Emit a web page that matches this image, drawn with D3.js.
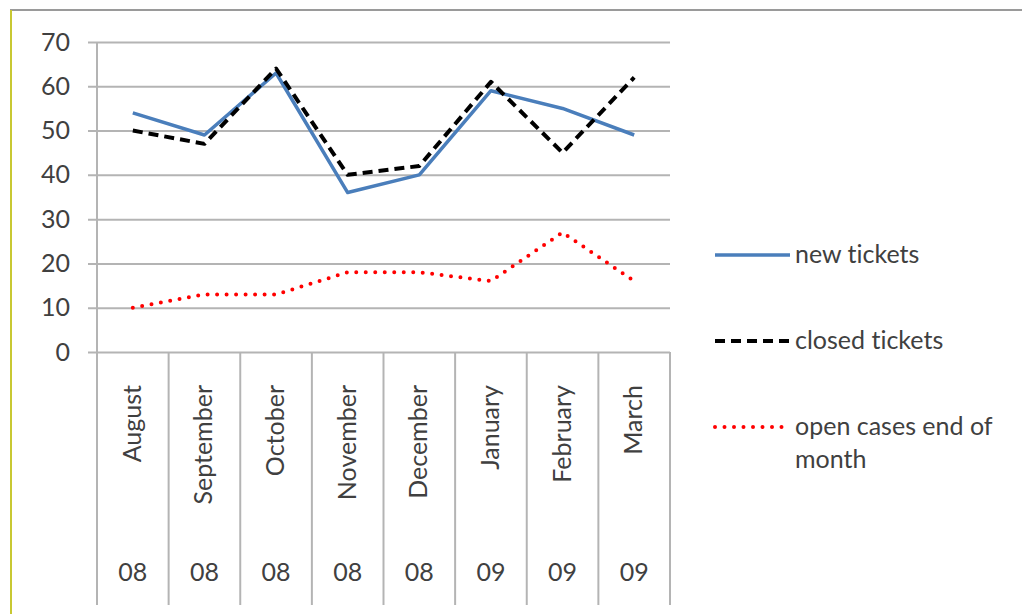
<!DOCTYPE html>
<html>
<head>
<meta charset="utf-8">
<script src="https://cdn.jsdelivr.net/npm/d3@7"></script>
<style>
  body { margin: 0; background: #fff; }
  text { font-family: Lato, "Open Sans", sans-serif; fill: #404040; font-variant-ligatures: none; }
</style>
</head>
<body>
<script>
var width = 1022,
  height = 614;

// data
var months = ["August", "September", "October", "November", "December", "January", "February", "March"];
var years = ["08", "08", "08", "08", "08", "09", "09", "09"];
var newTickets = [54, 49, 63, 36, 40, 59, 55, 49];
var closedTickets = [50, 47, 64, 40, 42, 61, 45, 62];
var openCases = [10, 13, 13, 18, 18, 16, 27, 16];
var yTicks = [0, 10, 20, 30, 40, 50, 60, 70];

var series = [
  { name: "new tickets", values: newTickets, color: "#4a7ebb", width: 3.5, dash: null, cap: "butt" },
  { name: "closed tickets", values: closedTickets, color: "#000", width: 4, dash: "10,6", cap: "butt" },
  { name: "open cases end of month", values: openCases, color: "#ff0000", width: 4, dash: "0,9.5", cap: "round" }
];

var fontSize = "25px";

var svg = d3.select("body")
  .append("svg")
  .attr("width", width)
  .attr("height", height);

// chart frame
svg.append("line")
  .attr("x1", 10).attr("x2", width).attr("y1", 10).attr("y2", 10)
  .attr("stroke", "#9a9a9a").attr("stroke-width", 2);
svg.append("line")
  .attr("x1", 11).attr("x2", 11).attr("y1", 10).attr("y2", height)
  .attr("stroke", "#c8c832").attr("stroke-width", 2);

//----------scales----------
var xScale = d3.scaleBand()
  .domain(months)
  .range([97, 670]);

var yScale = d3.scaleLinear()
  .domain([0, 70])
  .range([352, 42]);

//----------gridlines + Y axis----------
var yAxis = d3.axisLeft(yScale)
  .tickValues(yTicks)
  .tickSize(-(670 - 88))
  .tickPadding(18);

var gy = svg.append("g")
  .attr("transform", "translate(88,0)")
  .call(yAxis);
gy.select(".domain").remove();
gy.selectAll(".tick line")
  .attr("stroke", "#b4b4b4")
  .attr("stroke-width", 2);
gy.selectAll(".tick text")
  .style("font-size", fontSize)
  .attr("fill", "#404040");

svg.append("line")
  .attr("x1", 97).attr("x2", 97)
  .attr("y1", 42).attr("y2", 352)
  .attr("stroke", "#b4b4b4").attr("stroke-width", 2);

//----------category dividers + labels----------
var bounds = months.map(function (m) { return xScale(m); }).concat([670]);
svg.selectAll(".divider")
  .data(bounds)
  .enter()
  .append("line")
  .attr("class", "divider")
  .attr("x1", function (d) { return d; })
  .attr("x2", function (d) { return d; })
  .attr("y1", 352)
  .attr("y2", 605)
  .attr("stroke", "#b4b4b4")
  .attr("stroke-width", 2);

svg.selectAll(".month")
  .data(months)
  .enter()
  .append("text")
  .attr("class", "month")
  .attr("transform", function (d) {
    return "translate(" + (xScale(d) + xScale.bandwidth() / 2 + 8) + ",385) rotate(-90)";
  })
  .attr("text-anchor", "end")
  .style("font-size", fontSize)
  .text(function (d) { return d; });

svg.selectAll(".year")
  .data(years)
  .enter()
  .append("text")
  .attr("class", "year")
  .attr("x", function (d, i) { return xScale(months[i]) + xScale.bandwidth() / 2; })
  .attr("y", 581)
  .attr("text-anchor", "middle")
  .style("font-size", fontSize)
  .text(function (d) { return d; });

//----------lines----------
var line = d3.line()
  .x(function (d, i) { return xScale(months[i]) + xScale.bandwidth() / 2; })
  .y(function (d) { return yScale(d); });

series.forEach(function (s) {
  svg.append("path")
    .datum(s.values)
    .attr("d", line)
    .attr("fill", "none")
    .attr("stroke", s.color)
    .attr("stroke-width", s.width)
    .attr("stroke-dasharray", s.dash)
    .attr("stroke-linecap", s.cap)
    .attr("stroke-linejoin", "round");
});

//----------legend----------
var legendY = [255, 341, 427];
series.forEach(function (s, i) {
  svg.append("line")
    .attr("x1", 715).attr("x2", 790)
    .attr("y1", legendY[i]).attr("y2", legendY[i])
    .attr("stroke", s.color)
    .attr("stroke-width", s.width)
    .attr("stroke-dasharray", s.dash)
    .attr("stroke-linecap", s.cap);
});
svg.append("text").attr("x", 795).attr("y", 263).style("font-size", fontSize).text("new tickets");
svg.append("text").attr("x", 795).attr("y", 349).style("font-size", fontSize).text("closed tickets");
svg.append("text").attr("x", 795).attr("y", 435).style("font-size", fontSize).text("open cases end of");
svg.append("text").attr("x", 795).attr("y", 468).style("font-size", fontSize).text("month");
</script>
</body>
</html>
